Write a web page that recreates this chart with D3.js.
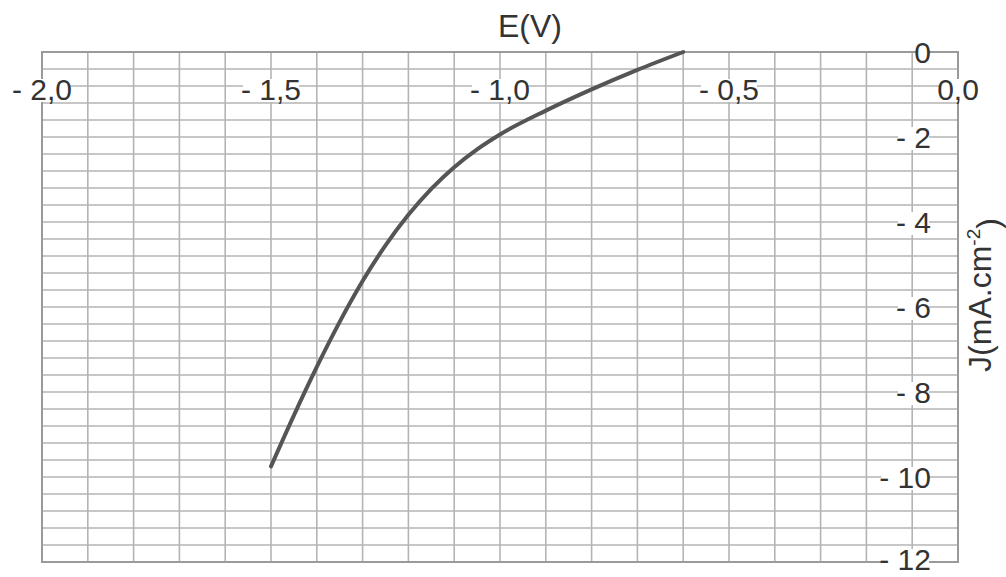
<!DOCTYPE html>
<html>
<head>
<meta charset="utf-8">
<script src="https://cdn.jsdelivr.net/npm/d3@7"></script>
<style>
  body { margin: 0; background: #fff; }
  text { font-family: "Liberation Sans", Arial, sans-serif; fill: #333; }
</style>
</head>
<body>
<svg id="chart"></svg>
<script>
// Data
const potentials = [-1.5, -1.45, -1.4, -1.35, -1.3, -1.25, -1.2, -1.15, -1.1, -1.05, -1.0, -0.9, -0.8, -0.7, -0.6];
const currents   = [-9.75, -8.55, -7.41, -6.35, -5.39, -4.55, -3.83, -3.22, -2.71, -2.29, -1.94, -1.38, -0.88, -0.42, 0];

const xTicks = [-2.0, -1.5, -1.0, -0.5, 0.0];
const xTickLabels = ["- 2,0", "- 1,5", "- 1,0", "- 0,5", "0,0"];
const yTicks = [0, -2, -4, -6, -8, -10, -12];
const yTickLabels = ["0", "- 2", "- 4", "- 6", "- 8", "- 10", "- 12"];

const width = 1006, height = 577;

const svg = d3.select("#chart")
    .attr("width", width)
    .attr("height", height);

const x = d3.scaleLinear().domain([-2, 0]).range([42, 958]);
const y = d3.scaleLinear().domain([0, -12]).range([52, 562]);

// Grille
const grid = svg.append("g");
grid.selectAll(".vline")
    .data(d3.range(21).map(i => -2 + i * 0.1))
    .enter()
    .append("line")
    .attr("x1", d => x(d)).attr("x2", d => x(d))
    .attr("y1", y(0)).attr("y2", y(-12))
    .attr("stroke", "#b4b4b4")
    .attr("stroke-width", 1.6);

grid.selectAll(".hline")
    .data(d3.range(31).map(i => -i * 0.4))
    .enter()
    .append("line")
    .attr("x1", x(-2)).attr("x2", x(0))
    .attr("y1", d => y(d)).attr("y2", d => y(d))
    .attr("stroke", "#b4b4b4")
    .attr("stroke-width", 1.6);

// Cadre
svg.append("rect")
    .attr("x", x(-2))
    .attr("y", y(0))
    .attr("width", x(0) - x(-2))
    .attr("height", y(-12) - y(0))
    .attr("fill", "none")
    .attr("stroke", "#9a9a9a")
    .attr("stroke-width", 2);

// Courbe
const pts = potentials.map((e, i) => [e, currents[i]]);
svg.append("path")
    .datum(pts)
    .attr("fill", "none")
    .attr("stroke", "#555")
    .attr("stroke-width", 4)
    .attr("stroke-linecap", "round")
    .attr("d", d3.line()
        .x(d => x(d[0]))
        .y(d => y(d[1]))
        .curve(d3.curveMonotoneX));

// Etiquettes de l'axe X
const xLab = svg.append("g");
xTicks.forEach((t, i) => {
    const txt = xLab.append("text")
        .attr("x", x(t))
        .attr("y", 100)
        .attr("text-anchor", "middle")
        .style("font-size", "30px")
        .text(xTickLabels[i]);
    const b = txt.node().getBBox();
    xLab.insert("rect", "text")
        .attr("x", b.x + 2).attr("y", b.y + 6)
        .attr("width", b.width - 4).attr("height", b.height - 10)
        .attr("fill", "#fff");
});

// Etiquettes de l'axe Y (la dernière remontée pour rester dans la page)
const yLab = svg.append("g");
yTicks.forEach((t, i) => {
    const txt = yLab.append("text")
        .attr("x", 931)
        .attr("y", Math.min(y(t) + 11, 570))
        .attr("text-anchor", "end")
        .style("font-size", "30px")
        .text(yTickLabels[i]);
    const b = txt.node().getBBox();
    yLab.insert("rect", "text")
        .attr("x", b.x + 2).attr("y", b.y + 6)
        .attr("width", b.width - 4).attr("height", b.height - 10)
        .attr("fill", "#fff");
});

// Titre axe X
svg.append("text")
    .attr("x", 530)
    .attr("y", 37)
    .attr("text-anchor", "middle")
    .style("font-size", "32px")
    .text("E(V)");

// Titre axe Y
const yTitle = svg.append("text")
    .attr("transform", `translate(991, 295) rotate(-90)`)
    .attr("text-anchor", "middle")
    .style("font-size", "32px");
yTitle.append("tspan").text("J(mA.cm");
yTitle.append("tspan").attr("dy", "-0.6em").style("font-size", "19px").text("-2");
yTitle.append("tspan").attr("dy", "0.6em").text(")");
</script>
</body>
</html>
